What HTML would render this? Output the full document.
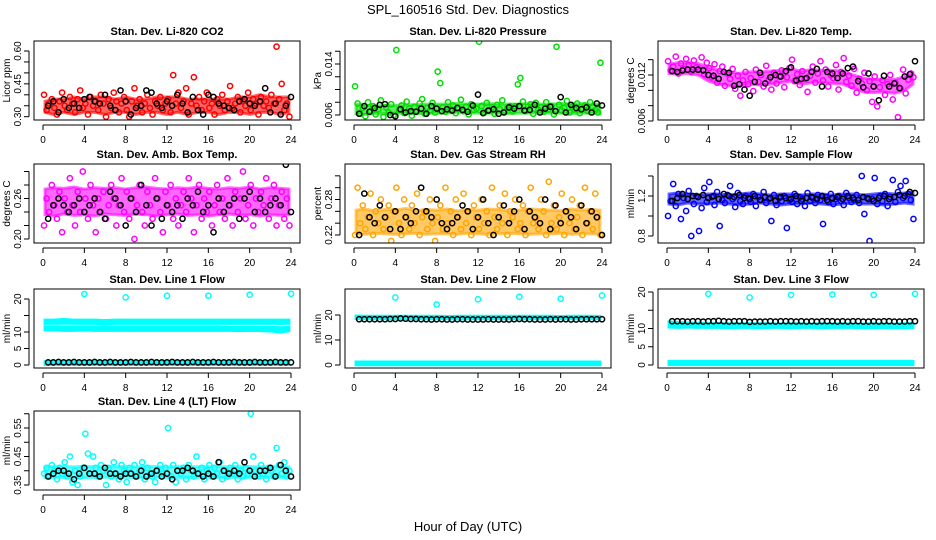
<!DOCTYPE html>
<html><head><meta charset="utf-8"><style>
html,body{margin:0;padding:0;background:#fff;}
svg{display:block;font-family:"Liberation Sans",sans-serif;}
</style></head><body>
<svg id="chart" width="936" height="540" viewBox="0 0 936 540" xmlns="http://www.w3.org/2000/svg">
<rect width="936" height="540" fill="#fff"/>
<text x="468" y="14" text-anchor="middle" font-size="13">SPL_160516  Std. Dev. Diagnostics</text>
<text x="468" y="531" text-anchor="middle" font-size="13">Hour of Day (UTC)</text>
<g id="panels"></g>
</svg>
<script>
// ---------- data ----------
const xTicks = [0,4,8,12,16,20,24];
const co2Vals = [0.40,0.33,0.36,0.38,0.34,0.31,0.37,0.41,0.35,0.33,0.39,0.36,0.32,0.38,0.42,0.34,0.36,0.31,0.39,0.35,0.37,0.33,0.40,0.36,0.30,0.38,0.34,0.41,0.37,0.32,0.36,0.39,0.33,0.30,0.37,0.43,0.35,0.38,0.32,0.36,0.40,0.34,0.31,0.37,0.35,0.39,0.33,0.36,0.38,0.32,0.49,0.36,0.41,0.34,0.37,0.43,0.31,0.36,0.48,0.35,0.39,0.33,0.37,0.41,0.34,0.36,0.31,0.38,0.35,0.40,0.33,0.37,0.44,0.34,0.36,0.39,0.32,0.37,0.35,0.41,0.33,0.38,0.36,0.31,0.39,0.35,0.37,0.34,0.40,0.36,0.62,0.38,0.45,0.33,0.36,0.30];
const co2Black = [0.35,0.37,0.32,0.38,0.34,0.36,0.34,0.38,0.39,0.37,0.36,0.40,0.35,0.33,0.42,0.37,0.31,0.34,0.35,0.42,0.41,0.36,0.34,0.37,0.35,0.40,0.36,0.32,0.39,0.33,0.31,0.40,0.39,0.36,0.35,0.34,0.33,0.37,0.38,0.36,0.35,0.37,0.43,0.32,0.36,0.31,0.35,0.39];
const co2Lo = [0.32,0.31,0.32,0.31,0.32,0.32,0.31,0.32,0.32,0.31,0.32,0.32,0.31,0.32,0.31,0.32,0.32,0.31,0.32,0.32,0.31,0.32,0.32,0.31,0.32];
const co2Hi = [0.37,0.38,0.38,0.39,0.38,0.39,0.39,0.38,0.39,0.38,0.38,0.39,0.39,0.39,0.38,0.38,0.38,0.38,0.38,0.39,0.39,0.40,0.39,0.39,0.39];

const presVals = [0.0105,0.0078,0.0062,0.0071,0.0058,0.0080,0.0066,0.0074,0.0061,0.0069,0.0083,0.0057,0.0072,0.0064,0.0077,0.0060,0.0162,0.0068,0.0075,0.0063,0.0081,0.0070,0.0059,0.0073,0.0066,0.0078,0.0085,0.0062,0.0071,0.0067,0.0079,0.0064,0.0128,0.0110,0.0072,0.0065,0.0080,0.0069,0.0075,0.0063,0.0071,0.0084,0.0066,0.0073,0.0061,0.0077,0.0068,0.0070,0.0175,0.0074,0.0064,0.0079,0.0067,0.0072,0.0062,0.0076,0.0069,0.0083,0.0065,0.0071,0.0074,0.0066,0.0074,0.0108,0.0118,0.0081,0.0066,0.0073,0.0077,0.0062,0.0079,0.0068,0.0072,0.0065,0.0080,0.0069,0.0074,0.0061,0.0167,0.0076,0.0067,0.0071,0.0082,0.0064,0.0073,0.0069,0.0078,0.0063,0.0070,0.0075,0.0066,0.0080,0.0072,0.0068,0.0064,0.0142];
const presBlack = [0.0062,0.0074,0.0065,0.0071,0.0076,0.0077,0.0060,0.0058,0.0069,0.0064,0.0066,0.0065,0.0070,0.0062,0.0074,0.0070,0.0066,0.0069,0.0067,0.0071,0.0068,0.0065,0.0075,0.0092,0.0063,0.0067,0.0069,0.0062,0.0064,0.0072,0.0070,0.0074,0.0067,0.0068,0.0076,0.0064,0.0070,0.0073,0.0066,0.0088,0.0064,0.0076,0.0071,0.0069,0.0072,0.0064,0.0078,0.0075];
const presLo = [0.0062,0.0061,0.0062,0.0062,0.0063,0.0063,0.0062,0.0063,0.0063,0.0063,0.0064,0.0063,0.0063,0.0063,0.0063,0.0062,0.0063,0.0063,0.0063,0.0063,0.0063,0.0062,0.0063,0.0063,0.0062];
const presHi = [0.0077,0.0076,0.0074,0.0075,0.0075,0.0076,0.0076,0.0077,0.0077,0.0077,0.0078,0.0077,0.0077,0.0078,0.0077,0.0077,0.0077,0.0078,0.0077,0.0077,0.0078,0.0077,0.0078,0.0077,0.0077];

const tempVals = [0.0138,0.0126,0.0131,0.0144,0.0122,0.0135,0.0128,0.0141,0.0133,0.0124,0.0139,0.0130,0.0127,0.0143,0.0121,0.0136,0.0129,0.0117,0.0134,0.0110,0.0125,0.0131,0.0106,0.0122,0.0115,0.0128,0.0102,0.0119,0.0093,0.0113,0.0124,0.0108,0.0116,0.0099,0.0127,0.0111,0.0120,0.0105,0.0132,0.0114,0.0101,0.0123,0.0109,0.0118,0.0126,0.0104,0.0117,0.0129,0.0140,0.0112,0.0121,0.0107,0.0125,0.0115,0.0098,0.0119,0.0131,0.0110,0.0122,0.0138,0.0113,0.0127,0.0105,0.0120,0.0116,0.0133,0.0101,0.0124,0.0142,0.0111,0.0119,0.0106,0.0128,0.0097,0.0115,0.0109,0.0123,0.0100,0.0112,0.0085,0.0118,0.0079,0.0104,0.0113,0.0094,0.0108,0.0120,0.0088,0.0110,0.0065,0.0102,0.0127,0.0096,0.0114,0.0122,0.0117];
const tempBlack = [0.0125,0.0124,0.0126,0.0127,0.0127,0.0127,0.0126,0.0120,0.0119,0.0115,0.0124,0.0123,0.0106,0.0108,0.0101,0.0093,0.0111,0.0123,0.0109,0.0117,0.0120,0.0118,0.0125,0.0130,0.0113,0.0115,0.0116,0.0124,0.0128,0.0105,0.0124,0.0122,0.0116,0.0122,0.0129,0.0131,0.0112,0.0104,0.0122,0.0105,0.0087,0.0119,0.0105,0.0109,0.0103,0.0118,0.0121,0.0138];
const tempLo = [0.0122,0.0121,0.0122,0.0120,0.0112,0.0108,0.0106,0.0105,0.0108,0.0107,0.0108,0.0110,0.0112,0.0108,0.0110,0.0110,0.0109,0.0108,0.0103,0.0098,0.0097,0.0098,0.0096,0.0100,0.0108];
const tempHi = [0.0134,0.0136,0.0136,0.0135,0.0130,0.0126,0.0124,0.0122,0.0124,0.0124,0.0125,0.0126,0.0128,0.0125,0.0127,0.0126,0.0126,0.0125,0.0120,0.0116,0.0114,0.0115,0.0114,0.0118,0.0122];

const boxVals = [0.22,0.26,0.24,0.28,0.25,0.23,0.27,0.21,0.26,0.24,0.29,0.25,0.22,0.27,0.24,0.30,0.26,0.23,0.28,0.25,0.21,0.26,0.24,0.27,0.23,0.25,0.28,0.26,0.22,0.25,0.29,0.24,0.27,0.23,0.26,0.20,0.25,0.28,0.24,0.22,0.27,0.25,0.23,0.29,0.26,0.24,0.21,0.27,0.25,0.28,0.23,0.26,0.22,0.25,0.27,0.24,0.29,0.26,0.21,0.25,0.28,0.23,0.26,0.24,0.27,0.22,0.25,0.28,0.24,0.26,0.23,0.29,0.25,0.22,0.27,0.24,0.26,0.30,0.23,0.25,0.28,0.22,0.26,0.24,0.27,0.25,0.29,0.23,0.26,0.28,0.22,0.25,0.27,0.23,0.26,0.22];
const boxBlack = [0.23,0.25,0.26,0.25,0.24,0.25,0.26,0.24,0.25,0.26,0.24,0.23,0.27,0.26,0.25,0.22,0.26,0.24,0.28,0.25,0.22,0.26,0.23,0.25,0.24,0.25,0.23,0.26,0.25,0.27,0.24,0.25,0.21,0.26,0.24,0.25,0.26,0.23,0.26,0.27,0.24,0.26,0.24,0.25,0.26,0.25,0.31,0.24];
const boxLo = [0.236,0.234,0.237,0.235,0.236,0.234,0.237,0.236,0.235,0.237,0.236,0.234,0.236,0.237,0.235,0.236,0.234,0.236,0.237,0.235,0.236,0.234,0.236,0.235,0.236];
const boxHi = [0.274,0.276,0.275,0.277,0.274,0.276,0.275,0.276,0.274,0.276,0.277,0.275,0.274,0.276,0.275,0.277,0.275,0.274,0.276,0.275,0.277,0.274,0.276,0.275,0.274];

const rhVals = [0.22,0.30,0.24,0.27,0.23,0.25,0.29,0.22,0.26,0.24,0.28,0.23,0.25,0.27,0.21,0.26,0.30,0.24,0.22,0.28,0.25,0.23,0.27,0.24,0.29,0.22,0.25,0.26,0.23,0.28,0.24,0.21,0.25,0.27,0.23,0.30,0.24,0.26,0.22,0.28,0.25,0.23,0.29,0.24,0.26,0.22,0.27,0.25,0.23,0.28,0.24,0.26,0.22,0.30,0.25,0.23,0.27,0.24,0.29,0.22,0.26,0.25,0.28,0.23,0.24,0.27,0.22,0.26,0.30,0.24,0.25,0.23,0.28,0.26,0.22,0.31,0.24,0.27,0.23,0.25,0.29,0.22,0.26,0.24,0.28,0.23,0.25,0.27,0.22,0.30,0.24,0.26,0.23,0.29,0.25,0.22];
const rhBlack = [0.22,0.29,0.25,0.24,0.27,0.25,0.23,0.26,0.23,0.25,0.24,0.26,0.30,0.26,0.25,0.28,0.24,0.23,0.24,0.25,0.27,0.26,0.23,0.25,0.28,0.24,0.22,0.25,0.27,0.24,0.26,0.28,0.23,0.26,0.25,0.24,0.28,0.23,0.27,0.24,0.26,0.25,0.23,0.27,0.24,0.26,0.25,0.22];
const rhLo = [0.222,0.221,0.223,0.222,0.221,0.222,0.223,0.221,0.222,0.222,0.221,0.223,0.222,0.221,0.222,0.223,0.222,0.221,0.222,0.222,0.223,0.221,0.222,0.222,0.221];
const rhHi = [0.262,0.264,0.261,0.263,0.262,0.265,0.261,0.263,0.262,0.264,0.261,0.263,0.262,0.264,0.263,0.261,0.262,0.264,0.263,0.262,0.261,0.264,0.262,0.263,0.262];

const flowVals = [1.00,1.15,1.32,1.10,1.22,0.97,1.18,1.05,1.25,0.80,1.12,1.20,0.85,1.08,1.28,1.14,1.34,1.19,1.11,1.24,0.90,1.16,1.13,1.21,1.30,1.17,1.09,1.23,1.15,1.12,1.20,1.18,1.14,1.22,1.10,1.19,1.16,1.24,1.13,1.17,0.95,1.21,1.11,1.18,1.15,1.20,0.88,1.16,1.14,1.22,1.12,1.19,1.17,1.10,1.23,1.15,1.18,1.13,1.21,1.16,0.92,1.19,1.14,1.22,1.12,1.17,1.20,1.15,1.11,1.23,1.18,1.14,1.16,1.21,1.13,1.40,1.02,1.18,0.75,1.17,1.38,1.12,1.20,1.15,1.22,1.10,1.19,1.36,1.14,1.24,1.30,1.18,1.35,1.22,1.16,0.97];
const flowBlack = [1.15,1.18,1.22,1.17,1.20,1.19,1.21,1.18,1.20,1.17,1.22,1.20,1.19,1.21,1.18,1.17,1.20,1.16,1.19,1.18,1.15,1.19,1.18,1.17,1.20,1.15,1.18,1.19,1.17,1.20,1.16,1.18,1.19,1.17,1.20,1.18,1.16,1.19,1.17,1.15,1.18,1.20,1.17,1.19,1.21,1.20,1.24,1.23];
const flowLo = [1.12,1.11,1.13,1.12,1.12,1.13,1.12,1.11,1.12,1.13,1.12,1.11,1.12,1.12,1.13,1.12,1.11,1.12,1.13,1.12,1.12,1.11,1.12,1.13,1.12];
const flowHi = [1.22,1.23,1.22,1.21,1.22,1.22,1.21,1.22,1.23,1.22,1.21,1.22,1.22,1.21,1.22,1.22,1.21,1.22,1.22,1.21,1.22,1.23,1.22,1.23,1.24];

const l1Black = [0.8,0.8,0.9,0.8,0.8,0.9,0.8,0.8,0.8,0.9,0.8,0.8,0.9,0.8,0.8,0.8,0.9,0.8,0.8,0.8,0.9,0.8,0.8,0.8,0.9,0.8,0.8,0.8,0.9,0.8,0.8,0.8,0.9,0.8,0.8,0.8,0.9,0.8,0.8,0.8,0.9,0.8,0.8,0.8,0.9,0.8,0.8,0.8];
const l1HiLo = [12.6,12.6,12.7,12.6,12.6,12.6,12.5,12.6,12.6,12.6,12.6,12.6,12.6,12.6,12.6,12.6,12.6,12.6,12.6,12.6,12.6,12.6,12.6,12.6,12.6];
const l1HiHi = [13.6,13.6,13.8,13.6,13.6,13.6,13.5,13.6,13.6,13.6,13.6,13.6,13.6,13.6,13.6,13.6,13.6,13.6,13.6,13.6,13.6,13.6,13.6,13.6,13.6];
const l1MidLo = [10.6,10.6,10.5,10.5,10.6,10.5,10.5,10.5,10.5,10.5,10.5,10.5,10.5,10.5,10.5,10.5,10.5,10.5,10.5,10.4,10.5,10.4,10.3,10.0,10.4];
const l1MidHi = [11.6,11.6,11.5,11.5,11.5,11.5,11.5,11.5,11.5,11.5,11.5,11.5,11.5,11.5,11.5,11.5,11.5,11.5,11.4,11.4,11.4,11.4,11.4,11.3,11.4];
const l1LowLo = [0.2,0.2,0.2,0.2,0.2,0.2,0.2,0.2,0.2,0.2,0.2,0.2,0.2,0.2,0.2,0.2,0.2,0.2,0.2,0.2,0.2,0.2,0.2,0.2,0.2];
const l1LowHi = [1.0,1.0,1.0,1.0,1.0,1.0,1.0,1.0,1.0,1.0,1.0,1.0,1.0,1.0,1.0,1.0,1.0,1.0,1.0,1.0,1.0,1.0,1.0,1.0,1.0];
const outHours = [4,8,12,16,20,24];
const l1Out = [21.5,20.5,21.0,21.0,21.3,21.6];

const l2Black = [18.3,18.3,18.3,18.3,18.3,18.3,18.4,18.4,18.6,18.5,18.4,18.4,18.3,18.3,18.2,18.3,18.3,18.2,18.2,18.3,18.3,18.2,18.2,18.2,18.2,18.3,18.2,18.2,18.2,18.2,18.3,18.4,18.3,18.3,18.2,18.2,18.2,18.3,18.2,18.3,18.3,18.2,18.2,18.3,18.3,18.3,18.3,18.3];
const l2HiLo = [18.6,18.5,18.5,18.5,18.5,18.5,18.5,18.5,18.5,18.5,18.4,18.5,18.5,18.5,18.5,18.5,18.5,18.5,18.5,18.5,18.5,18.5,18.5,18.5,18.5];
const l2HiHi = [19.6,19.5,19.5,19.5,19.5,19.5,19.5,19.5,19.5,19.4,19.5,19.5,19.5,19.5,19.5,19.5,19.5,19.5,19.5,19.5,19.4,19.5,19.5,19.5,19.4];
const l2LowLo = [0.1,0.1,0.1,0.1,0.1,0.1,0.1,0.1,0.1,0.1,0.1,0.1,0.1,0.1,0.1,0.1,0.1,0.1,0.1,0.1,0.1,0.1,0.1,0.1,0.1];
const l2LowHi = [1.2,1.2,1.2,1.2,1.2,1.2,1.2,1.2,1.2,1.2,1.2,1.2,1.2,1.2,1.2,1.2,1.2,1.2,1.2,1.2,1.2,1.2,1.2,1.2,1.2];
const l2Out = [27.0,24.2,26.3,27.3,26.5,27.8];

const l3Black = [12.0,12.0,12.0,11.9,12.0,12.0,11.9,12.0,12.0,12.1,12.0,11.9,12.0,12.0,12.0,11.8,11.9,11.9,11.9,12.0,11.9,12.0,12.0,12.0,11.9,12.0,11.9,12.0,11.9,12.0,12.0,12.0,11.9,12.0,11.9,12.0,12.0,11.9,11.9,12.0,11.9,12.0,12.0,11.9,11.9,11.9,12.0,12.0];
const l3HiLo = [10.4,10.3,10.4,10.3,10.3,10.3,10.2,10.3,10.3,10.2,10.3,10.3,10.2,10.3,10.3,10.2,10.3,10.3,10.3,10.2,10.2,10.3,10.2,10.2,10.3];
const l3HiHi = [11.8,11.6,11.5,11.4,11.4,11.3,11.3,11.3,11.3,11.3,11.3,11.2,11.3,11.3,11.2,11.3,11.2,11.3,11.2,11.2,11.3,11.2,11.2,11.3,11.4];
const l3LowLo = [0.1,0.1,0.1,0.1,0.1,0.1,0.1,0.1,0.1,0.1,0.1,0.1,0.1,0.1,0.1,0.1,0.1,0.1,0.1,0.1,0.1,0.1,0.1,0.1,0.1];
const l3LowHi = [1.0,1.0,1.0,1.0,1.0,1.0,1.0,1.0,1.0,1.0,1.0,1.0,1.0,1.0,1.0,1.0,1.0,1.0,1.0,1.0,1.0,1.0,1.0,1.0,1.0];
const l3Out = [19.5,18.5,19.2,19.3,19.2,19.5];

const l4Vals = [0.39,0.41,0.38,0.42,0.40,0.37,0.41,0.39,0.43,0.38,0.45,0.36,0.40,0.35,0.38,0.41,0.53,0.46,0.39,0.45,0.41,0.38,0.42,0.40,0.35,0.41,0.38,0.43,0.39,0.37,0.42,0.40,0.36,0.41,0.39,0.42,0.38,0.40,0.43,0.37,0.41,0.39,0.38,0.36,0.40,0.42,0.39,0.41,0.55,0.38,0.42,0.36,0.40,0.39,0.41,0.37,0.42,0.40,0.38,0.45,0.39,0.41,0.37,0.40,0.42,0.38,0.41,0.39,0.43,0.37,0.40,0.38,0.41,0.39,0.42,0.37,0.40,0.38,0.41,0.39,0.60,0.45,0.40,0.38,0.42,0.39,0.37,0.41,0.40,0.38,0.48,0.42,0.39,0.43,0.38,0.40];
const l4Black = [0.38,0.39,0.40,0.40,0.39,0.37,0.39,0.41,0.39,0.39,0.38,0.41,0.39,0.39,0.38,0.39,0.39,0.38,0.40,0.38,0.39,0.40,0.38,0.39,0.37,0.40,0.40,0.41,0.40,0.39,0.38,0.39,0.38,0.43,0.40,0.39,0.40,0.39,0.43,0.40,0.38,0.40,0.40,0.41,0.38,0.42,0.40,0.38];
const l4Lo = [0.376,0.375,0.377,0.376,0.375,0.376,0.377,0.375,0.376,0.376,0.375,0.377,0.376,0.375,0.376,0.376,0.377,0.375,0.376,0.376,0.375,0.376,0.377,0.375,0.376];
const l4Hi = [0.414,0.416,0.415,0.414,0.416,0.415,0.414,0.416,0.415,0.414,0.416,0.415,0.414,0.416,0.415,0.414,0.416,0.415,0.414,0.416,0.415,0.414,0.416,0.415,0.414];

// ---------- layout ----------
const NS = "http://www.w3.org/2000/svg";
const root = document.getElementById('panels');
function mk(tag, attrs, parent){const e=document.createElementNS(NS,tag);for(const k in attrs)e.setAttribute(k,attrs[k]);(parent||root).appendChild(e);return e;}

const panels = [
 {name:'co2', title:'Stan. Dev. Li-820 CO2', ylab:'Licor ppm', col:0,row:0, a:[116.7,0.30], b:[51,0.60], ticks:[0.30,0.35,0.40,0.45,0.50,0.55,0.60], labels:['0.30','','','0.45','','','0.60'], color:'#ff0000', vals:co2Vals, black:co2Black, bands:[[co2Lo,co2Hi]]},
 {name:'pressure', title:'Stan. Dev. Li-820 Pressure', ylab:'kPa', col:1,row:0, a:[115,0.006], b:[64,0.014], ticks:[0.006,0.008,0.010,0.012,0.014,0.016], labels:['0.006','','','','0.014',''], color:'#00dd00', vals:presVals, black:presBlack, bands:[[presLo,presHi]]},
 {name:'temp', title:'Stan. Dev. Li-820 Temp.', ylab:'degrees C', col:2,row:0, a:[121,0.006], b:[75,0.012], ticks:[0.006,0.008,0.010,0.012,0.014], labels:['0.006','','','0.012',''], color:'#ff00ff', vals:tempVals, black:tempBlack, bands:[[tempLo,tempHi]]},
 {name:'box-temp', title:'Stan. Dev. Amb. Box Temp.', ylab:'degrees C', col:0,row:1, a:[239,0.20], b:[198.5,0.26], ticks:[0.20,0.22,0.24,0.26,0.28,0.30], labels:['0.20','','','0.26','',''], color:'#ff00ff', vals:boxVals, black:boxBlack, bands:[[boxLo,boxHi]]},
 {name:'rh', title:'Stan. Dev. Gas Stream RH', ylab:'percent', col:1,row:1, a:[235,0.22], b:[199.5,0.28], ticks:[0.22,0.24,0.26,0.28,0.30,0.32], labels:['0.22','','','0.28','',''], color:'#ffa500', vals:rhVals, black:rhBlack, bands:[[rhLo,rhHi]]},
 {name:'sample-flow', title:'Stan. Dev. Sample Flow', ylab:'ml/min', col:2,row:1, a:[236,0.8], b:[196,1.2], ticks:[0.8,1.0,1.2,1.4], labels:['0.8','','1.2',''], color:'#0000ff', vals:flowVals, black:flowBlack, bands:[[flowLo,flowHi]]},
 {name:'line1', title:'Stan. Dev. Line 1 Flow', ylab:'ml/min', col:0,row:2, a:[365,0], b:[299,20], ticks:[0,5,10,15,20], labels:['0','5','10','','20'], color:'#00ffff', vals:null, black:l1Black, bands:[[l1HiLo,l1HiHi],[l1MidLo,l1MidHi],[l1LowLo,l1LowHi]], out:l1Out},
 {name:'line2', title:'Stan. Dev. Line 2 Flow', ylab:'ml/min', col:1,row:2, a:[365,0], b:[315,20], ticks:[0,10,20], labels:['0','10','20'], color:'#00ffff', vals:null, black:l2Black, bands:[[l2HiLo,l2HiHi],[l2LowLo,l2LowHi]], out:l2Out, blackFirst:true},
 {name:'line3', title:'Stan. Dev. Line 3 Flow', ylab:'ml/min', col:2,row:2, a:[365,0], b:[292,20], ticks:[0,5,10,15,20], labels:['0','5','10','','20'], color:'#00ffff', vals:null, black:l3Black, bands:[[l3HiLo,l3HiHi],[l3LowLo,l3LowHi]], out:l3Out},
 {name:'line4', title:'Stan. Dev. Line 4 (LT) Flow', ylab:'ml/min', col:0,row:3, a:[485,0.35], b:[428,0.55], ticks:[0.35,0.40,0.45,0.50,0.55,0.60], labels:['0.35','','0.45','','0.55',''], color:'#00ffff', vals:l4Vals, black:l4Black, bands:[[l4Lo,l4Hi]]}
];
const colLeft=[34,345,658], rowTop=[41,164,289,411], W=266, H=79;

panels.forEach(p=>{
  const L=colLeft[p.col], T=rowTop[p.row], B=T+H, R=L+W;
  const xs = h => L+9 + h/24*248;
  const ys = v => p.a[0] + (v-p.a[1])*(p.b[0]-p.a[0])/(p.b[1]-p.a[1]);
  const g = mk('g',{});
  
  
  const clipId='clip-'+p.name;
  const cp=mk('clipPath',{id:clipId},g); mk('rect',{x:L,y:T,width:W,height:H},cp);
  const plot=mk('g',{'clip-path':'url(#'+clipId+')'},g);
  p.bands.forEach((bd,bi)=>{
    const lo=bd[0], hi=bd[1];
    let pts=[];
    hi.forEach((v,i)=>pts.push(xs(Math.min(23.8,Math.max(0.2,i)))+','+ys(v)));
    for(let i=lo.length-1;i>=0;i--) pts.push(xs(Math.min(23.8,Math.max(0.2,i)))+','+ys(lo[i]));
    const pg=mk('polygon',{points:pts.join(' '),fill:p.color,'fill-opacity':p.vals?0.6:1,stroke:p.color,'stroke-opacity':p.vals?0.6:1,'stroke-width':3},plot);
    
    
  });
  function dot(x,y,col,nm){
    const c=mk('circle',{cx:x,cy:y,r:2.6,fill:'none',stroke:col,'stroke-width':1.5},plot);
    
    
  }
  function blacks(){ p.black.forEach((v,i)=>dot(xs(i*0.5+0.5),ys(v),'#000',p.name+'-black-point')); }
  if(p.blackFirst) blacks();
  if(p.vals) p.vals.forEach((v,i)=>dot(xs(i*0.25+0.1),ys(v),p.color,p.name+'-point'));
  if(p.out) p.out.forEach((v,i)=>dot(xs(outHours[i]),ys(v),p.color,p.name+'-outlier'));
  if(!p.blackFirst) blacks();
  mk('rect',{x:L,y:T,width:W,height:H,fill:'none',stroke:'#000','stroke-width':1},g);
  const t=mk('text',{x:L+W/2,y:T-6,'text-anchor':'middle','font-size':11,'font-weight':'bold'},g); t.textContent=p.title;
  
  
  mk('line',{x1:xs(0),x2:xs(24),y1:B+5,y2:B+5,stroke:'#000'},g);
  xTicks.forEach(h=>{
    mk('line',{x1:xs(h),x2:xs(h),y1:B+5,y2:B+10,stroke:'#000'},g);
    const tx=mk('text',{x:xs(h),y:B+23,'text-anchor':'middle','font-size':10},g); tx.textContent=h;
    
    
  });
  const y0=ys(p.ticks[0]), y1=ys(p.ticks[p.ticks.length-1]);
  mk('line',{x1:L-5,x2:L-5,y1:y0,y2:Math.max(y1,T),stroke:'#000'},g);
  p.ticks.forEach((v,i)=>{
    const yy=ys(v); if(yy<T-1) return;
    mk('line',{x1:L-10,x2:L-5,y1:yy,y2:yy,stroke:'#000'},g);
    const lab=p.labels[i]||'';
    if(lab){
      const ty=mk('text',{x:L-13,y:yy,'text-anchor':'middle','font-size':10,transform:'rotate(-90 '+(L-13)+' '+yy+')'},g);
      ty.textContent=lab;
      
      
    }
  });
  const yl=mk('text',{x:L-24,y:T+H/2,'text-anchor':'middle','font-size':10,transform:'rotate(-90 '+(L-24)+' '+(T+H/2)+')'},g);
  yl.textContent=p.ylab;
  
  
});
</script>
</body></html>
